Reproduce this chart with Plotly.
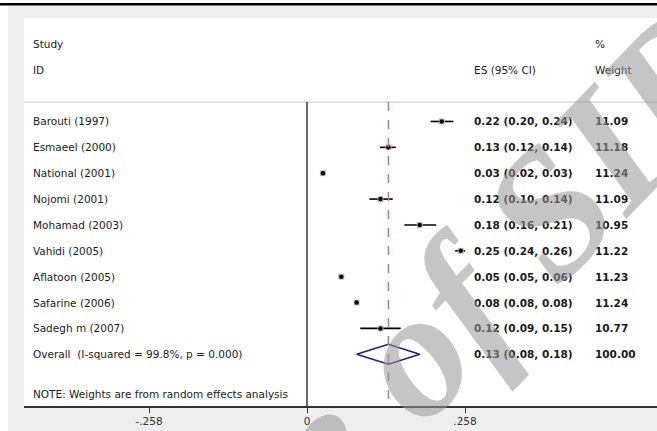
import plotly.graph_objects as go

# ---- data ----
studies = ["Barouti (1997)", "Esmaeel (2000)", "National (2001)", "Nojomi (2001)",
           "Mohamad (2003)", "Vahidi (2005)", "Aflatoon (2005)", "Safarine (2006)",
           "Sadegh m (2007)"]
es = [0.220, 0.133, 0.026, 0.120, 0.184, 0.251, 0.056, 0.081, 0.120]
lo = [0.202, 0.119, 0.022, 0.102, 0.159, 0.242, 0.052, 0.079, 0.087]
hi = [0.239, 0.145, 0.030, 0.140, 0.211, 0.258, 0.060, 0.083, 0.153]
es_text = ["0.22 (0.20, 0.24)", "0.13 (0.12, 0.14)", "0.03 (0.02, 0.03)",
           "0.12 (0.10, 0.14)", "0.18 (0.16, 0.21)", "0.25 (0.24, 0.26)",
           "0.05 (0.05, 0.06)", "0.08 (0.08, 0.08)", "0.12 (0.09, 0.15)"]
weights = ["11.09", "11.18", "11.24", "11.09", "10.95", "11.22", "11.23", "11.24", "10.77"]
overall_label = "Overall  (I-squared = 99.8%, p = 0.000)"
overall_es, overall_lo, overall_hi = 0.133, 0.081, 0.184
overall_text = "0.13 (0.08, 0.18)"
overall_weight = "100.00"
note = "NOTE: Weights are from random effects analysis"
tick_vals = [-0.258, 0, 0.258]
tick_text = ["-.258", "0", ".258"]

# ---- layout constants ----
W, H = 657, 431
ML, MR, MT, MB = 24, 0, 18, 25
PW, PH = W - ML - MR, H - MT - MB
X0, X1 = -0.4621, 0.5715
Y_TOP, Y_BOT = -3, 12
rows = list(range(1, len(studies) + 1))
overall_row = len(studies) + 1
FONT = "DejaVu Sans"

def px_x(p):
    return (p - ML) / PW

def px_y(p):
    return (H - MB - p) / PH

fig = go.Figure()

# CI lines
for r, l, h in zip(rows, lo, hi):
    fig.add_trace(go.Scatter(x=[l, h], y=[r, r], mode="lines",
                             line=dict(color="black", width=1.6),
                             hoverinfo="skip", showlegend=False))
# weight boxes
fig.add_trace(go.Scatter(x=es, y=rows, mode="markers",
                         marker=dict(symbol="square", size=6, color="#c0c0c0"),
                         hoverinfo="skip", showlegend=False))
# point estimates
fig.add_trace(go.Scatter(x=es, y=rows, mode="markers",
                         marker=dict(symbol="circle", size=4.5, color="black"),
                         showlegend=False))
# overall diamond
dh = 0.387
fig.add_trace(go.Scatter(
    x=[overall_lo, overall_es, overall_hi, overall_es, overall_lo],
    y=[overall_row, overall_row - dh, overall_row, overall_row + dh, overall_row],
    mode="lines", line=dict(color="#1c1c80", width=1.5),
    hoverinfo="skip", showlegend=False))

shapes = []
shapes.append(dict(type="line", xref="paper", yref="y", x0=0, x1=1, y0=0.25, y1=0.25,
                   line=dict(color="#c4c4c4", width=1)))
shapes.append(dict(type="line", xref="x", yref="y", x0=0, x1=0, y0=0.25, y1=Y_BOT,
                   line=dict(color="black", width=1.2)))
shapes.append(dict(type="line", xref="x", yref="y", x0=overall_es, x1=overall_es,
                   y0=0.25, y1=Y_BOT,
                   line=dict(color="#b87c7c", width=1.5, dash="dash")))
shapes.append(dict(type="rect", xref="paper", yref="paper",
                   x0=px_x(-2), x1=px_x(8), y0=px_y(H + 2), y1=px_y(-2),
                   fillcolor="white", line=dict(width=0), layer="above"))
shapes.append(dict(type="rect", xref="paper", yref="paper",
                   x0=px_x(-2), x1=px_x(W + 2), y0=px_y(3), y1=px_y(-2),
                   fillcolor="white", line=dict(width=0), layer="above"))
shapes.append(dict(type="rect", xref="paper", yref="paper",
                   x0=px_x(-2), x1=px_x(W + 2), y0=px_y(5.5), y1=px_y(3),
                   fillcolor="black", line=dict(width=0), layer="above"))

ann = []
def txt(x, y, s, bold=False, size=10.5, color="#1a1a1a"):
    ann.append(dict(x=x, y=y, xref="x", yref="y", text=s, showarrow=False,
                    xanchor="left", yanchor="middle",
                    font=dict(family=FONT, size=size, color=color,
                              weight="bold" if bold else "normal")))

XL, XES, XW = -0.4499, 0.2702, 0.467
txt(XL, -2, "Study")
txt(XL, -1, "ID")
txt(XES, -1, "ES (95% CI)")
txt(XW, -2, "%")
txt(XW, -1, "Weight")
for r, s, e, w in zip(rows, studies, es_text, weights):
    txt(XL, r, s)
    txt(XES, r, e, bold=True)
    txt(XW, r, w, bold=True)
txt(XL, overall_row, overall_label)
txt(XES, overall_row, overall_text, bold=True)
txt(XW, overall_row, overall_weight, bold=True)
txt(XL, 11.55, note)

# watermark
ann.append(dict(x=px_x(330), y=px_y(438), xref="paper", yref="paper",
                text="<b><i>Archive of SID</i></b>", showarrow=False, textangle=-46,
                xanchor="center", yanchor="middle",
                font=dict(family="Liberation Serif", size=180,
                          color="rgba(150,150,150,0.55)")))

fig.update_layout(
    width=W, height=H,
    margin=dict(l=ML, r=MR, t=MT, b=MB, pad=0),
    paper_bgcolor="#eeeeee", plot_bgcolor="white",
    shapes=shapes, annotations=ann,
    xaxis=dict(range=[X0, X1], tickvals=tick_vals, ticktext=tick_text,
               showgrid=False, zeroline=False, showline=True,
               linecolor="#333333", linewidth=1.5, ticks="outside",
               ticklen=5, tickwidth=1, tickcolor="#333333",
               tickfont=dict(family=FONT, size=10.5, color="#333333"),
               fixedrange=True),
    yaxis=dict(range=[Y_BOT, Y_TOP], showgrid=False, zeroline=False,
               showticklabels=False, showline=False, fixedrange=True),
    showlegend=False,
)

fig.write_html("out.html", config={"displayModeBar": False},
               post_script="document.body.style.margin='0';document.body.style.overflow='hidden';")
